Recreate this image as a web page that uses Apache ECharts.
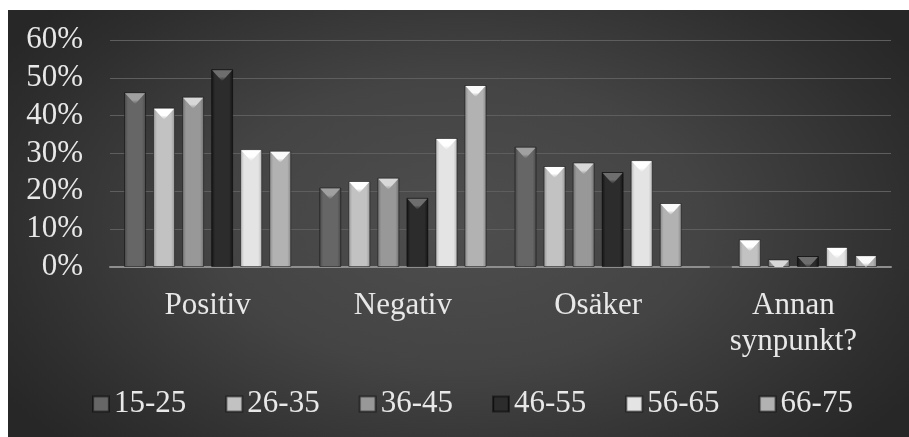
<!DOCTYPE html>
<html>
<head>
<meta charset="utf-8">
<script src="https://cdn.jsdelivr.net/npm/echarts@6/dist/echarts.min.js"></script>
<style>
  html, body { margin: 0; padding: 0; background: #ffffff; width: 909px; height: 437px; overflow: hidden; }
  #frame { position: absolute; left: 8px; top: 10px; width: 901px; height: 427px;
    background: radial-gradient(ellipse 60% 75% at 50% 50%, #4e4e4e 0%, #444444 45%, #2e2e2e 85%, #272727 100%); }
  #chart { width: 901px; height: 427px; }
</style>
</head>
<body>
<div id="frame"><div id="chart"></div></div>
<script>
// ---- data ----
const categories = ['Positiv', 'Negativ', 'Osäker', 'Annan\nsynpunkt?'];
const seriesNames = ['15-25', '26-35', '36-45', '46-55', '56-65', '66-75'];
const age15_25 = [46.2, 21.0, 31.8, 0];
const age26_35 = [42.1, 22.7, 26.7, 7.3];
const age36_45 = [45.0, 23.6, 27.6, 2.0];
const age46_55 = [52.3, 18.3, 25.1, 2.9];
const age56_65 = [31.1, 34.1, 28.2, 5.3];
const age66_75 = [30.7, 48.1, 16.9, 3.1];
const yTicks = [0, 10, 20, 30, 40, 50, 60];

const seriesValues = [age15_25, age26_35, age36_45, age46_55, age56_65, age66_75];
// edge, middle, bevel top
const palette = [
  ['#474747', '#666666', '#a0a0a0'],
  ['#959595', '#c2c2c2', '#ffffff'],
  ['#6e6e6e', '#989898', '#d8d8d8'],
  ['#121212', '#2c2c2c', '#6e6e6e'],
  ['#b4b4b4', '#e4e4e4', '#ffffff'],
  ['#868686', '#b2b2b2', '#fafafa']
];

const FONT = 'Liberation Serif';
const BAR_W = 22;
const BAR_GAP = '32%';

function bodyGradient(c) {
  return new echarts.graphic.LinearGradient(0, 0, 1, 0, [
    { offset: 0, color: c[0] },
    { offset: 0.18, color: c[1] },
    { offset: 0.82, color: c[1] },
    { offset: 1, color: c[0] }
  ]);
}
function bevelGradient(c) {
  return new echarts.graphic.LinearGradient(0, 0, 0, 1, [
    { offset: 0, color: c[2] },
    { offset: 0.6, color: c[2] },
    { offset: 1, color: c[1] }
  ]);
}

const series = [];
seriesNames.forEach((name, i) => {
  series.push({
    name: name,
    type: 'bar',
    barWidth: BAR_W,
    barGap: BAR_GAP,
    data: seriesValues[i],
    itemStyle: {
      color: bodyGradient(palette[i]),
      borderColor: 'rgba(0,0,0,0.45)',
      borderWidth: 1
    },
    emphasis: { disabled: true },
    z: 2
  });
});
seriesNames.forEach((name, i) => {
  series.push({
    name: name,
    type: 'pictorialBar',
    barWidth: BAR_W,
    barGap: BAR_GAP,
    symbol: 'path://M0,0 L20,0 L10,10 Z',
    symbolSize: [BAR_W - 2, 11],
    symbolPosition: 'end',
    symbolOffset: [0, 1],
    symbolClip: true,
    data: seriesValues[i].map(v => (v > 0 ? v : '-')),
    itemStyle: { color: bevelGradient(palette[i]) },
    emphasis: { disabled: true },
    silent: true,
    z: 3
  });
});

const chart = echarts.init(document.getElementById('chart'), null, { renderer: 'canvas' });
chart.setOption({
  backgroundColor: 'transparent',
  animation: false,
  textStyle: { fontFamily: FONT },
  grid: { left: 102, right: 18, top: 30, bottom: 170, containLabel: false },
  legend: {
    data: seriesNames,
    left: 79,
    top: 372,
    icon: 'rect',
    itemWidth: 16,
    itemHeight: 15,
    itemGap: 39,
    textStyle: { color: '#e8e8e8', fontFamily: FONT, fontSize: 31, lineHeight: 34 }
  },
  xAxis: {
    type: 'category',
    data: categories,
    axisLine: { show: true, lineStyle: { color: '#8e8e8e', width: 2 } },
    axisTick: { show: false },
    axisLabel: {
      color: '#e8e8e8', fontFamily: FONT, fontSize: 31, lineHeight: 36,
      margin: 21, interval: 0
    }
  },
  yAxis: {
    type: 'value',
    min: yTicks[0],
    max: yTicks[yTicks.length - 1],
    interval: 10,
    axisLine: { show: false },
    axisTick: { show: false },
    splitLine: { lineStyle: { color: '#5e5e5e', width: 1 } },
    axisLabel: {
      color: '#e8e8e8', fontFamily: FONT, fontSize: 31, margin: 27,
      formatter: '{value}%'
    }
  },
  series: series
});
</script>
</body>
</html>
